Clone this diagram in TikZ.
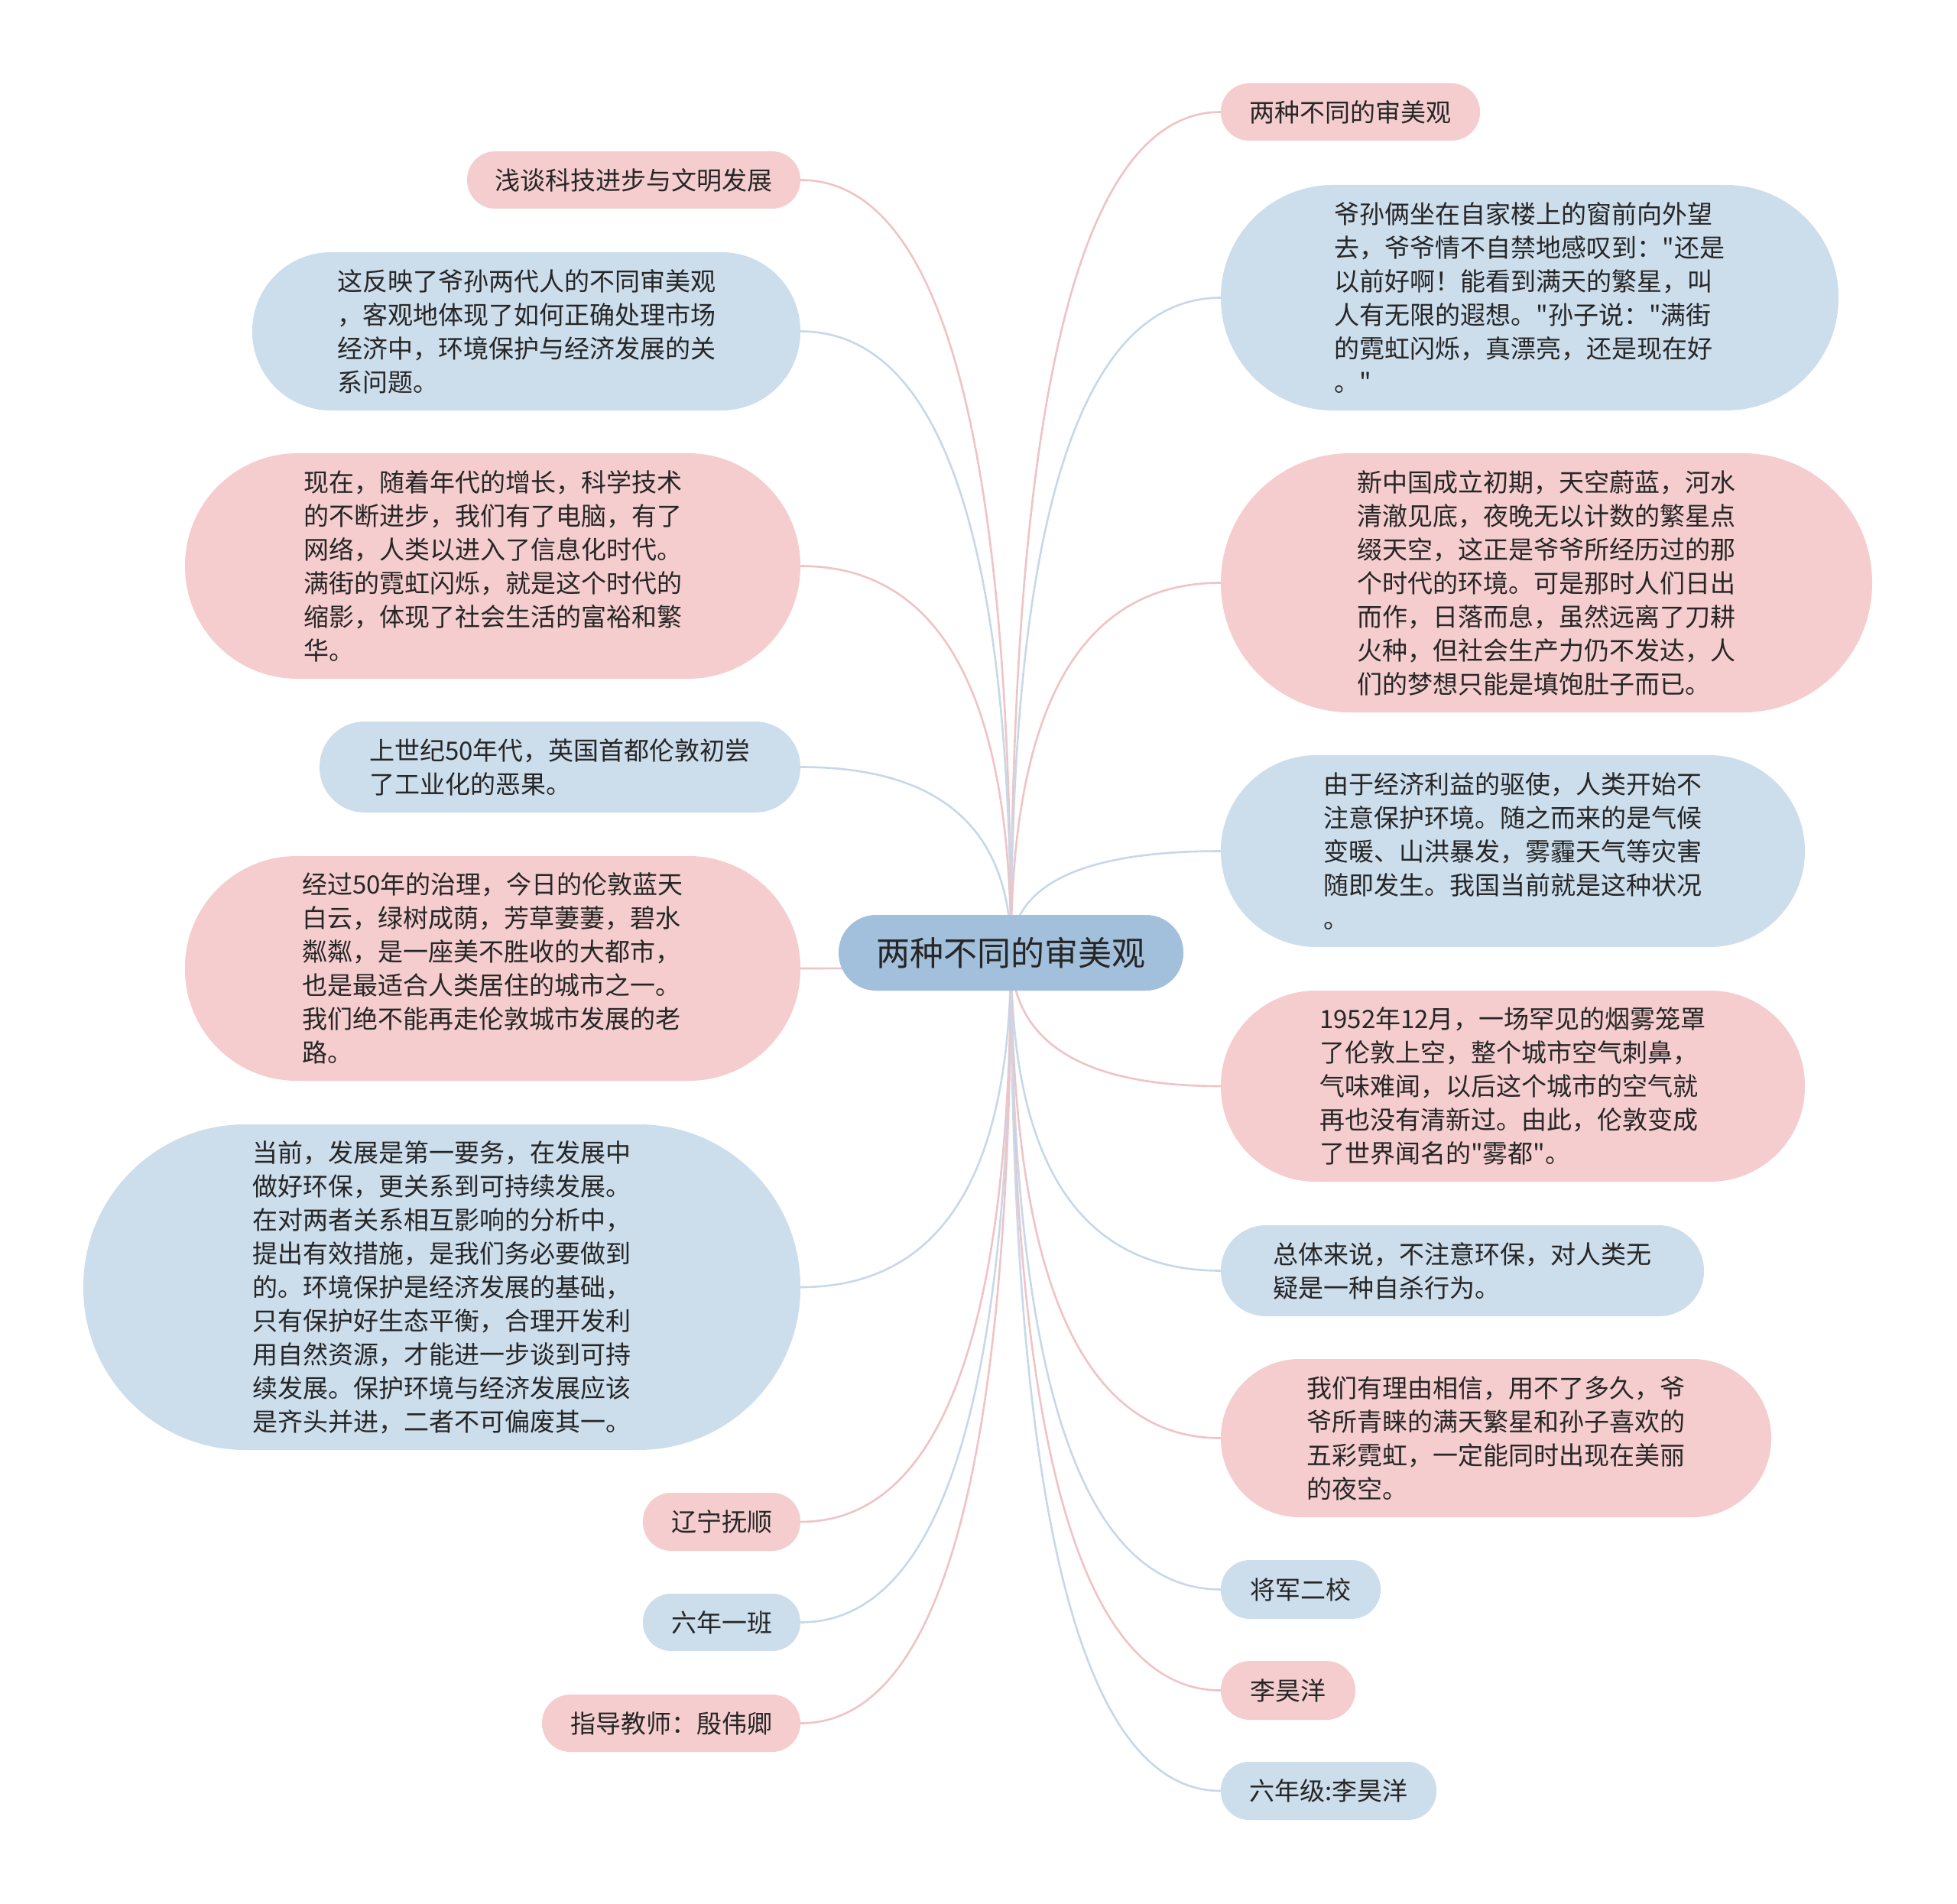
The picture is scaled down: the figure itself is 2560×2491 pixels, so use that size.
\documentclass[tikz,border=0pt]{standalone}
\usepackage{fontspec}
\setmainfont{Noto Sans CJK SC}[Ligatures=TeXOff]
\usetikzlibrary{calc}
\definecolor{pinkC}{HTML}{F5CDCE}
\definecolor{blueC}{HTML}{CCDDEC}
\definecolor{centerC}{HTML}{A2BFDB}
\definecolor{pinkL}{HTML}{F0C3C5}
\definecolor{blueL}{HTML}{C6D8EA}
\definecolor{txtC}{HTML}{262626}
\pgfdeclarelayer{bg}
\pgfsetlayers{bg,main}
\tikzset{
  box/.style={inner sep=0pt, text=txtC, font=\fontsize{33}{44}\selectfont, align=left},
  pinkbox/.style={box, fill=pinkC},
  bluebox/.style={box, fill=blueC},
  sz/.style n args={3}{minimum width=#1pt, minimum height=#2pt, rounded corners=#3pt},
  pinkcon/.style={draw=pinkL, line width=2.6pt},
  bluecon/.style={draw=blueL, line width=2.6pt},
}
\newcommand\myconn[2]{\draw[#1] (C.center) .. controls ($(C.center)!0.6667!(C.center |- #2)$) and ($(#2)!0.6667!(C.center |- #2)$) .. (#2);}
\begin{document}
\begin{tikzpicture}[x=1pt,y=-1pt]
\useasboundingbox (0,0) rectangle (2560,2491);
% center
\node[inner sep=0pt, fill=centerC, text=txtC, font=\fontsize{44}{54}\selectfont, minimum width=451pt, minimum height=99pt, rounded corners=49pt] (C) at (1322.5,1246.5) {两种不同的审美观};
% left nodes
\node[pinkbox, sz={436}{75}{37}] (L1) at (829,235.5) {浅谈科技进步与文明发展};
\node[bluebox, sz={717}{207}{103}] (L2) at (688.5,433.5) {这反映了爷孙两代人的不同审美观\\，客观地体现了如何正确处理市场\\经济中，环境保护与经济发展的关\\系问题。};
\node[pinkbox, sz={805}{295}{147}] (L3) at (644.5,740.5) {现在，随着年代的增长，科学技术\\的不断进步，我们有了电脑，有了\\网络，人类以进入了信息化时代。\\满街的霓虹闪烁，就是这个时代的\\缩影，体现了社会生活的富裕和繁\\华。};
\node[bluebox, sz={629}{119}{59}] (L4) at (732.5,1003.5) {上世纪50年代，英国首都伦敦初尝\\了工业化的恶果。};
\node[pinkbox, sz={805}{294}{146}] (L5) at (644.5,1267) {经过50年的治理，今日的伦敦蓝天\\白云，绿树成荫，芳草萋萋，碧水\\粼粼，是一座美不胜收的大都市，\\也是最适合人类居住的城市之一。\\我们绝不能再走伦敦城市发展的老\\路。};
\node[bluebox, sz={938}{426}{212}] (L6) at (578,1684) {当前，发展是第一要务，在发展中\\做好环保，更关系到可持续发展。\\在对两者关系相互影响的分析中，\\提出有效措施，是我们务必要做到\\的。环境保护是经济发展的基础，\\只有保护好生态平衡，合理开发利\\用自然资源，才能进一步谈到可持\\续发展。保护环境与经济发展应该\\是齐头并进，二者不可偏废其一。};
\node[pinkbox, sz={206}{76}{37}] (L7) at (944,1991) {辽宁抚顺};
\node[bluebox, sz={206}{75}{37}] (L8) at (944,2122.5) {六年一班};
\node[pinkbox, sz={338}{75}{37}] (L9) at (878,2254.5) {指导教师：殷伟卿};
% right nodes
\node[pinkbox, sz={339}{75}{37}] (R1) at (1766.5,146.5) {两种不同的审美观};
\node[bluebox, sz={808}{295}{147}] (R2) at (2001,389.5) {爷孙俩坐在自家楼上的窗前向外望\\去，爷爷情不自禁地感叹到："还是\\以前好啊！能看到满天的繁星，叫\\人有无限的遐想。"孙子说："满街\\的霓虹闪烁，真漂亮，还是现在好\\。"};
\node[pinkbox, sz={852}{339}{169}] (R3) at (2023,762.5) {新中国成立初期，天空蔚蓝，河水\\清澈见底，夜晚无以计数的繁星点\\缀天空，这正是爷爷所经历过的那\\个时代的环境。可是那时人们日出\\而作，日落而息，虽然远离了刀耕\\火种，但社会生产力仍不发达，人\\们的梦想只能是填饱肚子而已。};
\node[bluebox, sz={764}{251}{125}] (R4) at (1979,1113.5) {由于经济利益的驱使，人类开始不\\注意保护环境。随之而来的是气候\\变暖、山洪暴发，雾霾天气等灾害\\随即发生。我国当前就是这种状况\\。};
\node[pinkbox, sz={764}{250}{124}] (R5) at (1979,1421) {1952年12月，一场罕见的烟雾笼罩\\了伦敦上空，整个城市空气刺鼻，\\气味难闻，以后这个城市的空气就\\再也没有清新过。由此，伦敦变成\\了世界闻名的"雾都"。};
\node[bluebox, sz={632}{119}{59}] (R6) at (1913,1662.5) {总体来说，不注意环保，对人类无\\疑是一种自杀行为。};
\node[pinkbox, sz={720}{207}{103}] (R7) at (1957,1881.5) {我们有理由相信，用不了多久，爷\\爷所青睐的满天繁星和孙子喜欢的\\五彩霓虹，一定能同时出现在美丽\\的夜空。};
\node[bluebox, sz={209}{77}{38}] (R8) at (1701.5,2079.5) {将军二校};
\node[pinkbox, sz={176}{77}{38}] (R9) at (1685,2211.5) {李昊洋};
\node[bluebox, sz={282}{76}{37}] (R10) at (1738,2343) {六年级:李昊洋};
% connectors
\begin{pgfonlayer}{bg}
\myconn{pinkcon}{L1.east}
\myconn{bluecon}{L2.east}
\myconn{pinkcon}{L3.east}
\myconn{bluecon}{L4.east}
\myconn{pinkcon}{L5.east}
\myconn{bluecon}{L6.east}
\myconn{pinkcon}{L7.east}
\myconn{bluecon}{L8.east}
\myconn{pinkcon}{L9.east}
\myconn{pinkcon}{R1.west}
\myconn{bluecon}{R2.west}
\myconn{pinkcon}{R3.west}
\myconn{bluecon}{R4.west}
\myconn{pinkcon}{R5.west}
\myconn{bluecon}{R6.west}
\myconn{pinkcon}{R7.west}
\myconn{bluecon}{R8.west}
\myconn{pinkcon}{R9.west}
\myconn{bluecon}{R10.west}
\end{pgfonlayer}
\end{tikzpicture}
\end{document}
